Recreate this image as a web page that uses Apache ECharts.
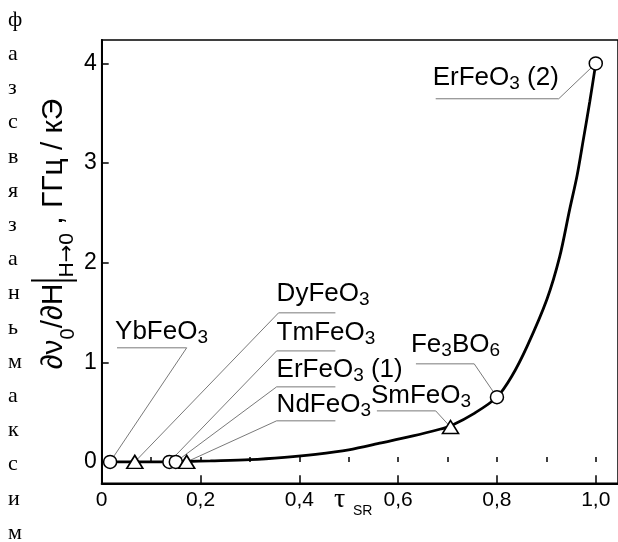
<!DOCTYPE html>
<html>
<head>
<meta charset="utf-8">
<script src="https://cdn.jsdelivr.net/npm/echarts@6/dist/echarts.min.js"></script>
<style>
html,body{margin:0;padding:0;background:#fff;}
#c{width:618px;height:542px;}
</style>
</head>
<body>
<div id="c"></div>
<script>
// ---- data ----
var curveX = [0.017, 0.067, 0.137, 0.150, 0.172, 0.22, 0.30, 0.37, 0.433, 0.50, 0.566, 0.63, 0.686, 0.706, 0.755, 0.80, 0.83, 0.861, 0.901, 0.927, 0.947, 0.962, 0.975, 0.988, 1.0];
var curveY = [0, 0, 0, 0, 0.004, 0.01, 0.022, 0.045, 0.075, 0.12, 0.19, 0.26, 0.33, 0.36, 0.49, 0.65, 0.86, 1.16, 1.63, 2.06, 2.53, 2.87, 3.24, 3.62, 4.0];
var circleX = [0.017, 0.137, 0.150, 0.80, 1.0];
var circleY = [0, 0, 0, 0.65, 4.0];
var triX = [0.067, 0.172, 0.706];
var triY = [0, 0, 0.35];
var xTickValues = [0, 0.1, 0.2, 0.3, 0.4, 0.5, 0.6, 0.7, 0.8, 0.9, 1.0];
var xLabelValues = [0, 0.2, 0.4, 0.6, 0.8, 1.0];
var yTickValues = [0, 1, 2, 3, 4];
// compound names: [main, subscript, tail]
var labelNames = [
  ['ErFeO', '3', ' (2)'],
  ['YbFeO', '3', ''],
  ['DyFeO', '3', ''],
  ['TmFeO', '3', ''],
  ['ErFeO', '3', ' (1)'],
  ['NdFeO', '3', ''],
  ['SmFeO', '3', ''],
  ['Fe', '3', 'BO', '6']
];
// label anchors (data coords: left x, baseline y)
var labelAnchorX = [0.670, 0.027, 0.354, 0.354, 0.354, 0.354, 0.545, 0.626];
var labelAnchorY = [3.765, 1.215, 1.596, 1.205, 0.833, 0.482, 0.572, 1.084];
// leader polylines (data coords): marker -> elbow -> end
var leaderX = [
  [1.0, 0.925, 0.676],
  [0.017, 0.172, 0.031],
  [0.067, 0.358, 0.473],
  [0.137, 0.354, 0.473],
  [0.150, 0.354, 0.473],
  [0.172, 0.354, 0.473],
  [0.706, 0.676, 0.557],
  [0.80, 0.754, 0.636]
];
var leaderY = [
  [4.0, 3.645, 3.645],
  [0, 1.145, 1.145],
  [0, 1.496, 1.496],
  [0, 1.114, 1.114],
  [0, 0.753, 0.753],
  [0, 0.412, 0.412],
  [0.35, 0.512, 0.512],
  [0.65, 0.984, 0.984]
];
var sideLetters = ['ф','а','з','с','в','я','з','а','н','ь','м','а','к','с','и','м'];

function zip(a, b) { return a.map(function (v, i) { return [v, b[i]]; }); }

var chart = echarts.init(document.getElementById('c'), null, {renderer: 'canvas'});
var SANS = '"Liberation Sans", Arial, Helvetica, sans-serif';

var series = [];
leaderX.forEach(function (xs, i) {
  series.push({
    type: 'line', data: zip(xs, leaderY[i]), symbol: 'none', silent: true,
    lineStyle: {color: '#6a6a6a', width: 0.9}, z: 1, animation: false
  });
});
series.push({
  type: 'line', data: zip(curveX, curveY), symbol: 'none', smooth: 0.3,
  lineStyle: {color: '#000', width: 2.8}, z: 3, animation: false
});
series.push({
  type: 'scatter', data: zip(circleX, circleY), symbol: 'circle', symbolSize: 13,
  itemStyle: {color: '#fff', borderColor: '#000', borderWidth: 1.5, opacity: 1}, z: 5, animation: false
});
series.push({
  type: 'scatter', data: zip(triX, triY), symbol: 'triangle', symbolSize: [16, 13],
  itemStyle: {color: '#fff', borderColor: '#000', borderWidth: 1.6, opacity: 1}, z: 5, animation: false
});

function xFmt(v) {
  if (Math.abs(v) < 1e-9) return '0';
  return (Math.round(v * 10) / 10).toFixed(1).replace('.', ',');
}

chart.setOption({
  animation: false,
  backgroundColor: '#fff',
  grid: {left: 101.7, top: 40, width: 520, height: 443.3, show: true, borderColor: '#000', borderWidth: 1.5, backgroundColor: 'transparent'},
  xAxis: [{
    type: 'value', min: 0, max: 1.045, position: 'bottom',
    axisLine: {show: true, onZero: false, lineStyle: {color: '#000', width: 2}},
    axisTick: {show: true, inside: true, length: 8, lineStyle: {color: '#000', width: 1.5}, customValues: xLabelValues},
    axisLabel: {show: true, customValues: xLabelValues, formatter: xFmt, color: '#000', fontSize: 21, fontFamily: SANS, margin: 6},
    splitLine: {show: false}
  }, {
    type: 'value', min: 0, max: 1.045, position: 'bottom', offset: 0,
    axisLine: {show: false},
    axisTick: {show: true, inside: true, length: 5, lineStyle: {color: '#000', width: 1.5}, customValues: xTickValues},
    axisLabel: {show: false},
    splitLine: {show: false}
  }],
  yAxis: {
    type: 'value', min: -0.215, max: 4.235,
    axisLine: {show: true, onZero: false, lineStyle: {color: '#000', width: 2}},
    axisTick: {show: true, inside: true, length: 7, lineStyle: {color: '#000', width: 1.5}, customValues: yTickValues},
    axisLabel: {show: true, customValues: yTickValues, color: '#000', fontSize: 23, fontFamily: SANS, margin: 5},
    splitLine: {show: false}
  },
  series: series
});

// ---- annotations ----
var graphics = [];
function toPx(x, y) { return chart.convertToPixel({gridIndex: 0}, [x, y]); }

labelNames.forEach(function (parts, i) {
  var p = toPx(labelAnchorX[i], labelAnchorY[i]);
  var txt = '{m|' + parts[0] + '}{s|' + parts[1] + '}';
  if (parts.length === 4) txt += '{m|' + parts[2] + '}{s|' + parts[3] + '}';
  else if (parts[2]) txt += '{m|' + parts[2] + '}';
  graphics.push({
    type: 'text', x: p[0], y: p[1] - 9, z: 10, silent: true,
    style: {
      text: txt, align: 'left', verticalAlign: 'middle',
      rich: {
        m: {fontSize: 26, fontFamily: SANS, color: '#000', lineHeight: 30, verticalAlign: 'middle'},
        s: {fontSize: 19, fontFamily: SANS, color: '#000', lineHeight: 13, verticalAlign: 'bottom'}
      }
    }
  });
});

// y axis title (rotated)
graphics.push({
  type: 'text', x: 54, y: 234, rotation: Math.PI / 2, z: 10, silent: true,
  style: {
    text: '{m|∂ν}{s|0}{m|/∂H}{g| }{bar| }{g| }{t|H}{a|→}{t|0}{m| , ГГц / кЭ}',
    align: 'center', verticalAlign: 'middle',
    rich: {
      m: {fontSize: 30, fontFamily: SANS, color: '#000', lineHeight: 48, verticalAlign: 'middle'},
      s: {fontSize: 20, fontFamily: SANS, color: '#000', lineHeight: 31, verticalAlign: 'bottom'},
      t: {fontSize: 21, fontFamily: SANS, color: '#000', lineHeight: 27, verticalAlign: 'bottom'},
      a: {fontSize: 21, fontFamily: '"DejaVu Sans", sans-serif', color: '#000', lineHeight: 27, verticalAlign: 'bottom'},
      g: {fontSize: 10, width: 2, lineHeight: 48},
      bar: {fontSize: 10, width: 2, height: 46, lineHeight: 48, backgroundColor: '#000'}
    }
  }
});

// x axis title
graphics.push({
  type: 'text', x: 334, y: 514, z: 10, silent: true,
  style: {text: 'τ', font: '28px "Liberation Serif", "DejaVu Serif", serif', fill: '#000', align: 'left', verticalAlign: 'bottom'}
});
graphics.push({
  type: 'text', x: 353, y: 518, z: 10, silent: true,
  style: {text: 'SR', font: '14px ' + SANS, fill: '#000', align: 'left', verticalAlign: 'bottom'}
});

// side column of letters
sideLetters.forEach(function (ch, i) {
  graphics.push({
    type: 'text', x: 8, y: 20 + 34.2 * i, z: 10, silent: true,
    style: {text: ch, font: '22px "Liberation Serif", "DejaVu Serif", serif', fill: '#000', align: 'left', verticalAlign: 'middle'}
  });
});

chart.setOption({graphic: {elements: graphics}});
</script>
</body>
</html>
